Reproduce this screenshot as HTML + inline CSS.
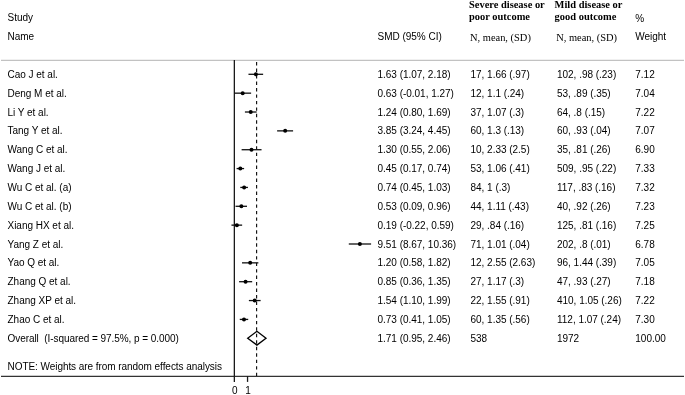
<!DOCTYPE html>
<html><head><meta charset="utf-8"><style>
html,body{margin:0;padding:0;background:#fff;}
#w{position:absolute;left:0;top:0;width:685px;height:395px;filter:grayscale(1);}
body{width:685px;height:395px;position:relative;overflow:hidden;}
.t{position:absolute;font-family:"Liberation Sans",sans-serif;font-size:10px;line-height:12px;color:#000;white-space:pre;letter-spacing:-0.02px;}
.s{position:absolute;font-family:"Liberation Serif",serif;font-size:10.45px;line-height:12px;color:#000;white-space:pre;}
.b{font-weight:bold;}
svg{position:absolute;left:0;top:0;}

</style></head><body><div id="w">

<div class="t" style="left:7.50px;top:12.30px">Study</div>
<div class="t" style="left:7.50px;top:31.00px">Name</div>
<div class="t" style="left:377.50px;top:31.00px">SMD (95% CI)</div>
<div class="s b" style="left:469.00px;top:-0.80px">Severe disease or</div>
<div class="s b" style="left:469.00px;top:11.30px">poor outcome</div>
<div class="s" style="left:470.00px;top:32.40px">N, mean, (SD)</div>
<div class="s b" style="left:554.60px;top:-0.80px">Mild disease or</div>
<div class="s b" style="left:554.60px;top:11.30px">good outcome</div>
<div class="s" style="left:556.20px;top:32.40px">N, mean, (SD)</div>
<div class="t" style="left:635.30px;top:12.70px">%</div>
<div class="t" style="left:635.30px;top:31.00px">Weight</div>
<div class="t" style="left:7.50px;top:68.90px">Cao J et al.</div>
<div class="t" style="left:377.50px;top:68.90px">1.63 (1.07, 2.18)</div>
<div class="t" style="left:470.50px;top:68.90px">17, 1.66 (.97)</div>
<div class="t" style="left:557.00px;top:68.90px">102, .98 (.23)</div>
<div class="t" style="left:635.30px;top:68.90px">7.12</div>
<div class="t" style="left:7.50px;top:87.75px">Deng M et al.</div>
<div class="t" style="left:377.50px;top:87.75px">0.63 (-0.01, 1.27)</div>
<div class="t" style="left:470.50px;top:87.75px">12, 1.1 (.24)</div>
<div class="t" style="left:557.00px;top:87.75px">53, .89 (.35)</div>
<div class="t" style="left:635.30px;top:87.75px">7.04</div>
<div class="t" style="left:7.50px;top:106.61px">Li Y et al.</div>
<div class="t" style="left:377.50px;top:106.61px">1.24 (0.80, 1.69)</div>
<div class="t" style="left:470.50px;top:106.61px">37, 1.07 (.3)</div>
<div class="t" style="left:557.00px;top:106.61px">64, .8 (.15)</div>
<div class="t" style="left:635.30px;top:106.61px">7.22</div>
<div class="t" style="left:7.50px;top:125.47px">Tang Y et al.</div>
<div class="t" style="left:377.50px;top:125.47px">3.85 (3.24, 4.45)</div>
<div class="t" style="left:470.50px;top:125.47px">60, 1.3 (.13)</div>
<div class="t" style="left:557.00px;top:125.47px">60, .93 (.04)</div>
<div class="t" style="left:635.30px;top:125.47px">7.07</div>
<div class="t" style="left:7.50px;top:144.32px">Wang C et al.</div>
<div class="t" style="left:377.50px;top:144.32px">1.30 (0.55, 2.06)</div>
<div class="t" style="left:470.50px;top:144.32px">10, 2.33 (2.5)</div>
<div class="t" style="left:557.00px;top:144.32px">35, .81 (.26)</div>
<div class="t" style="left:635.30px;top:144.32px">6.90</div>
<div class="t" style="left:7.50px;top:163.17px">Wang J et al.</div>
<div class="t" style="left:377.50px;top:163.17px">0.45 (0.17, 0.74)</div>
<div class="t" style="left:470.50px;top:163.17px">53, 1.06 (.41)</div>
<div class="t" style="left:557.00px;top:163.17px">509, .95 (.22)</div>
<div class="t" style="left:635.30px;top:163.17px">7.33</div>
<div class="t" style="left:7.50px;top:182.03px">Wu C et al. (a)</div>
<div class="t" style="left:377.50px;top:182.03px">0.74 (0.45, 1.03)</div>
<div class="t" style="left:470.50px;top:182.03px">84, 1 (.3)</div>
<div class="t" style="left:557.00px;top:182.03px">117, .83 (.16)</div>
<div class="t" style="left:635.30px;top:182.03px">7.32</div>
<div class="t" style="left:7.50px;top:200.89px">Wu C et al. (b)</div>
<div class="t" style="left:377.50px;top:200.89px">0.53 (0.09, 0.96)</div>
<div class="t" style="left:470.50px;top:200.89px">44, 1.11 (.43)</div>
<div class="t" style="left:557.00px;top:200.89px">40, .92 (.26)</div>
<div class="t" style="left:635.30px;top:200.89px">7.23</div>
<div class="t" style="left:7.50px;top:219.74px">Xiang HX et al.</div>
<div class="t" style="left:377.50px;top:219.74px">0.19 (-0.22, 0.59)</div>
<div class="t" style="left:470.50px;top:219.74px">29, .84 (.16)</div>
<div class="t" style="left:557.00px;top:219.74px">125, .81 (.16)</div>
<div class="t" style="left:635.30px;top:219.74px">7.25</div>
<div class="t" style="left:7.50px;top:238.59px">Yang Z et al.</div>
<div class="t" style="left:377.50px;top:238.59px">9.51 (8.67, 10.36)</div>
<div class="t" style="left:470.50px;top:238.59px">71, 1.01 (.04)</div>
<div class="t" style="left:557.00px;top:238.59px">202, .8 (.01)</div>
<div class="t" style="left:635.30px;top:238.59px">6.78</div>
<div class="t" style="left:7.50px;top:257.45px">Yao Q et al.</div>
<div class="t" style="left:377.50px;top:257.45px">1.20 (0.58, 1.82)</div>
<div class="t" style="left:470.50px;top:257.45px">12, 2.55 (2.63)</div>
<div class="t" style="left:557.00px;top:257.45px">96, 1.44 (.39)</div>
<div class="t" style="left:635.30px;top:257.45px">7.05</div>
<div class="t" style="left:7.50px;top:276.31px">Zhang Q et al.</div>
<div class="t" style="left:377.50px;top:276.31px">0.85 (0.36, 1.35)</div>
<div class="t" style="left:470.50px;top:276.31px">27, 1.17 (.3)</div>
<div class="t" style="left:557.00px;top:276.31px">47, .93 (.27)</div>
<div class="t" style="left:635.30px;top:276.31px">7.18</div>
<div class="t" style="left:7.50px;top:295.16px">Zhang XP et al.</div>
<div class="t" style="left:377.50px;top:295.16px">1.54 (1.10, 1.99)</div>
<div class="t" style="left:470.50px;top:295.16px">22, 1.55 (.91)</div>
<div class="t" style="left:557.00px;top:295.16px">410, 1.05 (.26)</div>
<div class="t" style="left:635.30px;top:295.16px">7.22</div>
<div class="t" style="left:7.50px;top:314.02px">Zhao C et al.</div>
<div class="t" style="left:377.50px;top:314.02px">0.73 (0.41, 1.05)</div>
<div class="t" style="left:470.50px;top:314.02px">60, 1.35 (.56)</div>
<div class="t" style="left:557.00px;top:314.02px">112, 1.07 (.24)</div>
<div class="t" style="left:635.30px;top:314.02px">7.30</div>
<div class="t" style="left:7.50px;top:332.87px;letter-spacing:-0.055px">Overall&#160; (I-squared = 97.5%, p = 0.000)</div>
<div class="t" style="left:377.50px;top:332.87px">1.71 (0.95, 2.46)</div>
<div class="t" style="left:470.50px;top:332.87px">538</div>
<div class="t" style="left:557.00px;top:332.87px">1972</div>
<div class="t" style="left:635.30px;top:332.87px">100.00</div>
<div class="t" style="left:7.50px;top:360.90px;letter-spacing:-0.055px">NOTE: Weights are from random effects analysis</div>
<div class="t" style="left:232.00px;top:384.50px">0</div>
<div class="t" style="left:245.30px;top:384.50px">1</div>
<svg width="685" height="395" viewBox="0 0 685 395">
<line x1="1" y1="60.3" x2="684" y2="60.3" stroke="#c2c2c2" stroke-width="1.2"/>
<line x1="1" y1="376.4" x2="684" y2="376.4" stroke="#333" stroke-width="1.3"/>
<line x1="234.35" y1="60" x2="234.35" y2="376.4" stroke="#1a1a1a" stroke-width="1.3"/>
<line x1="234.35" y1="376" x2="234.35" y2="381.9" stroke="#1a1a1a" stroke-width="1.3"/>
<line x1="247.54999999999998" y1="376" x2="247.54999999999998" y2="381.9" stroke="#1a1a1a" stroke-width="1.3"/>
<line x1="256.6" y1="62.1" x2="256.6" y2="376" stroke="#111" stroke-width="1.15" stroke-dasharray="3.4 3.07"/>
<line x1="248.47" y1="74.30" x2="263.13" y2="74.30" stroke="#111" stroke-width="1.3"/>
<circle cx="255.87" cy="74.30" r="2.0" fill="#000"/>
<line x1="234.22" y1="93.16" x2="251.11" y2="93.16" stroke="#111" stroke-width="1.3"/>
<circle cx="242.67" cy="93.16" r="2.0" fill="#000"/>
<line x1="244.91" y1="112.01" x2="256.66" y2="112.01" stroke="#111" stroke-width="1.3"/>
<circle cx="250.72" cy="112.01" r="2.0" fill="#000"/>
<line x1="277.12" y1="130.87" x2="293.09" y2="130.87" stroke="#111" stroke-width="1.3"/>
<circle cx="285.17" cy="130.87" r="2.0" fill="#000"/>
<line x1="241.61" y1="149.72" x2="261.54" y2="149.72" stroke="#111" stroke-width="1.3"/>
<circle cx="251.51" cy="149.72" r="2.0" fill="#000"/>
<line x1="236.59" y1="168.57" x2="244.12" y2="168.57" stroke="#111" stroke-width="1.3"/>
<circle cx="240.29" cy="168.57" r="2.0" fill="#000"/>
<line x1="240.29" y1="187.43" x2="247.95" y2="187.43" stroke="#111" stroke-width="1.3"/>
<circle cx="244.12" cy="187.43" r="2.0" fill="#000"/>
<line x1="235.54" y1="206.29" x2="247.02" y2="206.29" stroke="#111" stroke-width="1.3"/>
<circle cx="241.35" cy="206.29" r="2.0" fill="#000"/>
<line x1="231.45" y1="225.14" x2="242.14" y2="225.14" stroke="#111" stroke-width="1.3"/>
<circle cx="236.86" cy="225.14" r="2.0" fill="#000"/>
<line x1="348.79" y1="244.00" x2="371.10" y2="244.00" stroke="#111" stroke-width="1.3"/>
<circle cx="359.88" cy="244.00" r="2.0" fill="#000"/>
<line x1="242.01" y1="262.85" x2="258.37" y2="262.85" stroke="#111" stroke-width="1.3"/>
<circle cx="250.19" cy="262.85" r="2.0" fill="#000"/>
<line x1="239.10" y1="281.70" x2="252.17" y2="281.70" stroke="#111" stroke-width="1.3"/>
<circle cx="245.57" cy="281.70" r="2.0" fill="#000"/>
<line x1="248.87" y1="300.56" x2="260.62" y2="300.56" stroke="#111" stroke-width="1.3"/>
<circle cx="254.68" cy="300.56" r="2.0" fill="#000"/>
<line x1="239.76" y1="319.42" x2="248.21" y2="319.42" stroke="#111" stroke-width="1.3"/>
<circle cx="243.99" cy="319.42" r="2.0" fill="#000"/>
<polygon points="247.69,338.20 256.92,331.30 266.02,338.20 256.92,345.10" fill="none" stroke="#000" stroke-width="1.3" stroke-linejoin="miter"/>
</svg>
</div></body></html>
